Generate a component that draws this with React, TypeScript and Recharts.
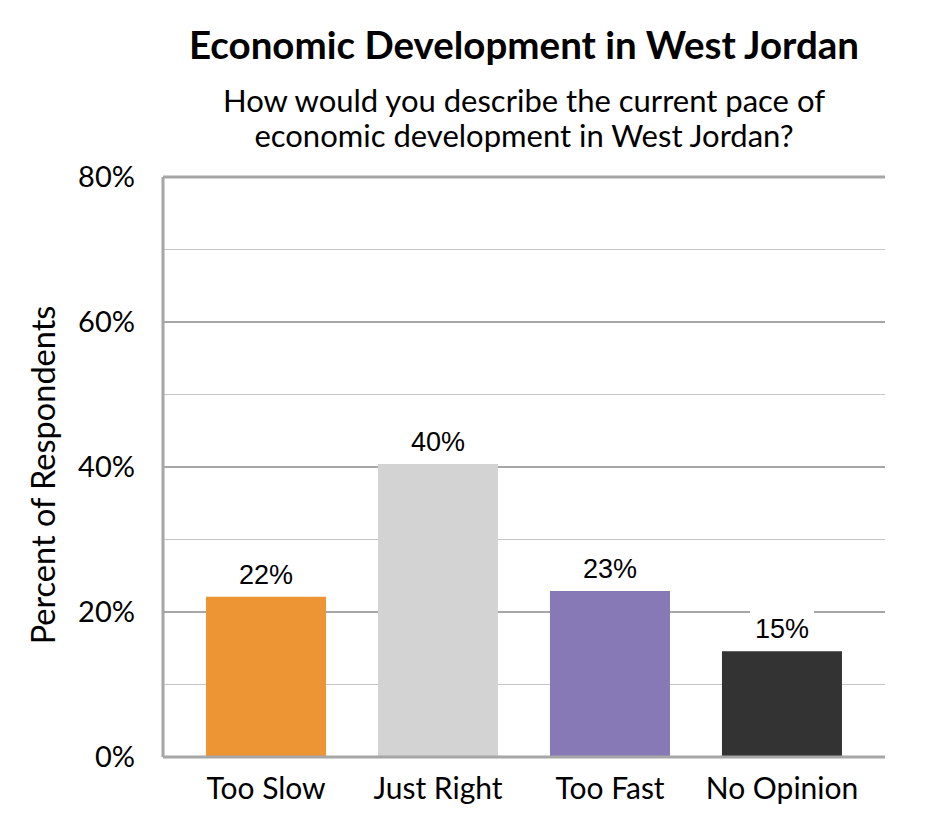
import React from "react";
import { BarChart, Bar, XAxis, YAxis, CartesianGrid, Cell, LabelList } from "recharts";

const categories = ["Too Slow", "Just Right", "Too Fast", "No Opinion"];
const values = [22.1, 40.4, 22.9, 14.6];
const colors = ["#ED9434", "#D3D3D3", "#8779B5", "#333333"];
const yTicks = [0, 20, 40, 60, 80];
const minorGrid = [10, 30, 50, 70];
const majorGrid = [20, 40, 60];
const title = "Economic Development in West Jordan";
const subtitleLines = ["How would you describe the current pace of", "economic development in West Jordan?"];
const yLabel = "Percent of Respondents";

const data = categories.map((c, i) => ({ name: c, value: values[i] }));

const AXIS_FONT = "Lato, 'Open Sans', sans-serif";
const LABEL_FONT = "'Liberation Sans', Arial, sans-serif";

const XTick = (props: any) => {
  const { x, y, payload } = props;
  return (
    <text x={x} y={y + 34} textAnchor="middle" fontFamily={AXIS_FONT} fontSize={30} fill="#000">
      {payload.value}
    </text>
  );
};

const YTick = (props: any) => {
  const { x, y, payload } = props;
  return (
    <text x={x} y={y + 10} textAnchor="end" fontFamily={AXIS_FONT} fontSize={29} fill="#000">
      {`${payload.value}%`}
    </text>
  );
};

const BarLabel = (props: any) => {
  const { x, y, width, value } = props;
  const cx = x + width / 2;
  return (
    <g>
      <rect x={cx - 32} y={y - 44} width={64} height={38} fill="#fff" />
      <text x={cx} y={y - 13} textAnchor="middle" fontFamily={LABEL_FONT} fontSize={27} fill="#000">
        {`${Math.round(value)}%`}
      </text>
    </g>
  );
};

export default function App() {
  const W = 930;
  const H = 824;
  return (
    <div style={{ position: "relative", width: W, height: H }}>
      <BarChart
        width={W}
        height={H}
        data={data}
        margin={{ top: 169, right: 53, bottom: 15, left: 75 }}
        barCategoryGap="15.1%"
      >
        <CartesianGrid vertical={false} horizontalValues={minorGrid} stroke="#c6c6c6" strokeWidth={1} />
        <CartesianGrid vertical={false} horizontalValues={majorGrid} stroke="#a6a6a6" strokeWidth={2} />
        <CartesianGrid vertical={false} horizontalValues={[80]} stroke="#a6a6a6" strokeWidth={3} />
        <XAxis
          dataKey="name"
          height={60}
          padding={{ left: 17, right: 17 }}
          tickLine={false}
          axisLine={{ stroke: "#a6a6a6", strokeWidth: 3 }}
          tick={<XTick />}
          interval={0}
        />
        <YAxis
          width={80}
          domain={[0, 80]}
          ticks={yTicks}
          tickLine={false}
          tickMargin={22}
          axisLine={{ stroke: "#a6a6a6", strokeWidth: 3 }}
          tick={<YTick />}
        />
        <YAxis
          yAxisId="r"
          orientation="right"
          width={0}
          domain={[0, 80]}
          ticks={yTicks}
          tick={false}
          tickLine={false}
          axisLine={{ stroke: "#a6a6a6", strokeWidth: 3 }}
        />
        <Bar dataKey="value" isAnimationActive={false}>
          {data.map((d, i) => (
            <Cell key={d.name} fill={colors[i]} />
          ))}
          <LabelList dataKey="value" content={<BarLabel />} />
        </Bar>
      </BarChart>
      <svg
        width={W}
        height={H}
        style={{ position: "absolute", left: 0, top: 0, pointerEvents: "none" }}
      >
        <text x={516} y={51} textAnchor="middle" fontFamily={AXIS_FONT} fontWeight={700} fontSize={38.5} fill="#000">
          {title}
        </text>
        {subtitleLines.map((line, i) => (
          <text
            key={i}
            x={516}
            y={104 + i * 35}
            textAnchor="middle"
            fontFamily={AXIS_FONT}
            fontSize={31}
            fill="#000"
          >
            {line}
          </text>
        ))}
        <text
          x={0}
          y={0}
          transform="translate(47 467) rotate(-90)"
          textAnchor="middle"
          fontFamily={AXIS_FONT}
          fontSize={32.5}
          fill="#000"
        >
          {yLabel}
        </text>
      </svg>
    </div>
  );
}
